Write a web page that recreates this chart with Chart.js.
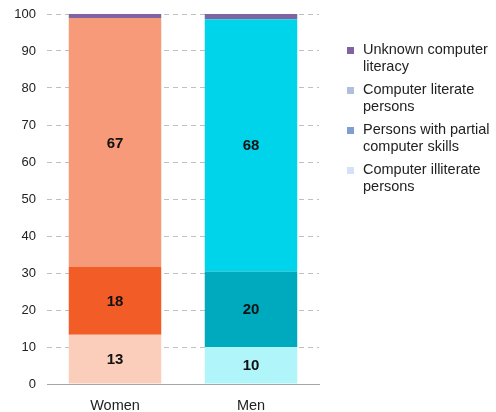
<!DOCTYPE html>
<html>
<head>
<meta charset="utf-8">
<script src="https://cdn.jsdelivr.net/npm/chart.js@4.4.1/dist/chart.umd.min.js"></script>
<style>
    html, body { margin: 0; padding: 0; background: #fff; }
    .wrap { position: relative; width: 496px; height: 412px; }
    canvas { position: absolute; left: 0; top: 0; }
    .legend { position: absolute; left: 347px; top: 40.5px; font-family: 'Liberation Sans', Arial, sans-serif; font-size: 14.5px; color: #222; line-height: 17px; }
    .legend-item { position: relative; padding-left: 16px; margin-bottom: 6px; white-space: nowrap; }
    .legend-item span { position: absolute; left: 0; top: 6.5px; width: 7px; height: 7px; }
</style>
</head>
<body>
<div class="wrap">
    <canvas id="chart" width="496" height="412"></canvas>
    <div class="legend" id="legend"></div>
</div>
<script>
    const categories = ['Women', 'Men'];
    const illiterate = [13.3, 10.0];
    const partial = [18.3, 20.4];
    const literate = [67.3, 68.2];
    const unknown = [1.1, 1.4];
    const yTicks = [0, 10, 20, 30, 40, 50, 60, 70, 80, 90, 100];

    const seriesNames = ['Computer illiterate persons', 'Persons with partial computer skills', 'Computer literate persons', 'Unknown computer literacy'];
    const legendLines = [
        ['Unknown computer', 'literacy'],
        ['Computer literate', 'persons'],
        ['Persons with partial', 'computer skills'],
        ['Computer illiterate', 'persons'],
    ];
    const legendColors = ['#8064A2', '#AFC0DC', '#7E9FCF', '#D6E1F8'];

    const font = "'Liberation Sans', Arial, sans-serif";

    const barLabels = {
        id: 'barLabels',
        afterDatasetsDraw(chart) {
            const ctx = chart.ctx;
            ctx.save();
            ctx.font = 'bold 15px ' + font;
            ctx.fillStyle = '#111';
            ctx.textAlign = 'center';
            ctx.textBaseline = 'middle';
            chart.data.datasets.forEach((ds, di) => {
                if (!ds.showLabel) return;
                chart.getDatasetMeta(di).data.forEach((bar, i) => {
                    const p = bar.getProps(['x', 'y', 'base'], true);
                    ctx.fillText(Math.round(ds.data[i]), p.x, (p.y + p.base) / 2 + 1);
                });
            });
            ctx.restore();
        }
    };

    new Chart(document.getElementById('chart'), {
        type: 'bar',
        data: {
            labels: categories,
            datasets: [
                { label: seriesNames[0], data: illiterate, backgroundColor: ['#FBCEBC', '#AFF5FA'], showLabel: true },
                { label: seriesNames[1], data: partial, backgroundColor: ['#F25C26', '#00AABE'], showLabel: true },
                { label: seriesNames[2], data: literate, backgroundColor: ['#F79A7A', '#00D4EA'], showLabel: true },
                { label: seriesNames[3], data: unknown, backgroundColor: ['#8064A2', '#8064A2'], showLabel: false },
            ].map((d) => ({ ...d, barPercentage: 0.68, categoryPercentage: 1, borderWidth: 0 })),
        },
        options: {
            responsive: false,
            animation: false,
            layout: { padding: { top: 14, right: 177, left: 0, bottom: 0 } },
            plugins: { legend: { display: false }, tooltip: { enabled: false } },
            scales: {
                x: {
                    stacked: true,
                    grid: { display: false },
                    border: { display: true, color: '#A6A6A6', width: 1 },
                    ticks: { color: '#222', font: { family: font, size: 14.5 }, padding: 5 },
                    afterFit: (s) => { s.height = 28; s.paddingLeft = 0; s.paddingRight = 0; },
                },
                y: {
                    stacked: true,
                    min: 0,
                    max: 100,
                    afterBuildTicks: (s) => { s.ticks = yTicks.map((v) => ({ value: v })); },
                    grid: {
                        drawTicks: false,
                        color: (c) => (c.tick && c.tick.value === 0 ? 'rgba(0,0,0,0)' : '#BFBFBF'),
                        lineWidth: 1,
                    },
                    border: { display: false, dash: [5, 4] },
                    ticks: { color: '#222', font: { family: font, size: 13 }, padding: 11 },
                    afterFit: (s) => { s.width = 47; s.paddingTop = 0; s.paddingBottom = 0; },
                },
            },
        },
        plugins: [barLabels],
    });

    const legend = document.getElementById('legend');
    legendLines.forEach((lines, i) => {
        const item = document.createElement('div');
        item.className = 'legend-item';
        item.innerHTML = `<span style="background:${legendColors[i]}"></span>${lines.join('<br>')}`;
        legend.appendChild(item);
    });
</script>
</body>
</html>
